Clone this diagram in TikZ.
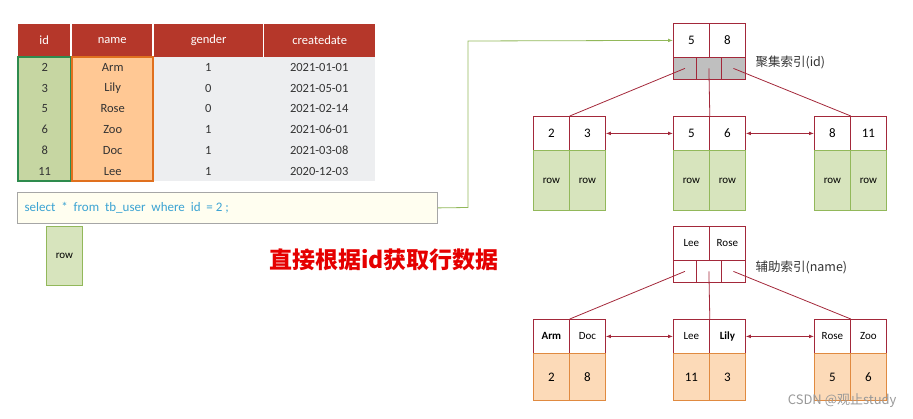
\documentclass[tikz,border=0pt]{standalone}
\usepackage{fontspec}
\setmainfont{Carlito}
\newfontfamily\cjk{Noto Sans CJK SC}
\usetikzlibrary{arrows.meta}
\definecolor{hdr}{HTML}{B5372A}
\definecolor{rowbg}{HTML}{EDEEF0}
\definecolor{gfill}{HTML}{C6D6A2}
\definecolor{gbord}{HTML}{2E8B4E}
\definecolor{ofill}{HTML}{FFC894}
\definecolor{obord}{HTML}{E0701E}
\definecolor{tred}{HTML}{A3283A}
\definecolor{lg}{HTML}{D7E4BD}
\definecolor{lgb}{HTML}{92B85A}
\definecolor{lo}{HTML}{FCDAB8}
\definecolor{lob}{HTML}{E08A40}
\definecolor{sqlc}{HTML}{3BA3D3}
\tikzset{
 cell/.style={draw=tred,line width=0.8pt,minimum width=36pt,minimum height=34pt,inner sep=0pt,anchor=north west,font=\fontsize{13}{13}\selectfont},
 pcell/.style={draw=tred,line width=0.8pt,minimum width=24pt,minimum height=22pt,inner sep=0pt,anchor=north west},
 greenrow/.style={draw=lgb,fill=lg,line width=0.8pt,minimum width=36pt,minimum height=60pt,inner sep=0pt,anchor=north west,font=\fontsize{11}{11}\selectfont},
 orow/.style={draw=lob,fill=lo,line width=0.8pt,minimum width=36pt,minimum height=47pt,inner sep=0pt,anchor=north west,font=\fontsize{13}{13}\selectfont},
 tlink/.style={draw=tred,line width=0.8pt},
 dbl/.style={draw=tred,line width=0.8pt,{Latex[length=5pt]}-{Latex[length=5pt]}},
 hcell/.style={fill=hdr,text=white,minimum height=33pt,inner sep=0pt,anchor=north west,font=\fontsize{12.5}{12.5}\selectfont},
 tcell/.style={minimum height=20.7pt,inner sep=0pt,anchor=north west,font=\fontsize{12.5}{12.5}\selectfont,text=black!80},
}
\begin{document}
\begin{tikzpicture}[x=1pt,y=-1pt]
\useasboundingbox (0,0) rectangle (913,419);
% table
\fill[rowbg] (153,57) rectangle (375,181);
\fill[gfill] (18,57) rectangle (71,181);
\fill[ofill] (72,57) rectangle (153,181);
\node[hcell,minimum width=52pt] (h1) at (18,24) {id};
\node[hcell,minimum width=80pt] (h2) at (72,24) {name};
\node[hcell,minimum width=109pt] (h3) at (154,24) {gender};
\node[hcell,minimum width=111pt] (h4) at (264,24) {createdate};
\foreach \i/\a/\b/\c/\d in {0/2/Arm/1/2021-01-01,1/3/Lily/0/2021-05-01,2/5/Rose/0/2021-02-14,3/6/Zoo/1/2021-06-01,4/8/Doc/1/2021-03-08,5/11/Lee/1/2020-12-03}{
 \node[tcell,minimum width=53pt] (ra\i) at (18,57+\i*20.7) {\a};
 \node[tcell,minimum width=81pt] (rb\i) at (72,57+\i*20.7) {\b};
 \node[tcell,minimum width=110pt] (rc\i) at (153,57+\i*20.7) {\c};
 \node[tcell,minimum width=112pt] (rd\i) at (263,57+\i*20.7) {\d};
}
\draw[gbord,line width=1.2pt] (18,57) rectangle (71,181);
\draw[obord,line width=1.2pt] (72,57) rectangle (153,181);
% sql
\node[draw=black!35,fill=yellow!6,line width=0.8pt,minimum width=420pt,minimum height=31pt,anchor=north west,inner sep=0pt] (sql) at (17,192) {};
\node[anchor=west,text=sqlc,font=\fontsize{13}{13}\selectfont] (sqlt) at (21,207.5) {select \ * \ from \ tb\_user \ where \ id \ = 2 ;};
\node[draw=lgb,fill=lg,line width=0.8pt,minimum width=36pt,minimum height=59pt,anchor=north west,inner sep=0pt,font=\fontsize{11}{11}\selectfont] (qrow) at (46,226) {row};
\node[text=red!90!black,font=\cjk\bfseries\fontsize{23}{23}\selectfont] (title) at (384,260) {直接根据id获取行数据};
% top tree
\node[cell] (r1a) at (673,23) {5};
\node[cell] (r1b) at (709,23) {8};
\node[pcell,fill=black!25,minimum width=23pt] (p1a) at (673,57) {};
\node[pcell,fill=black!25,minimum width=25pt] (p1b) at (696,57) {};
\node[pcell,fill=black!25,minimum width=24pt] (p1c) at (721,57) {};
\node[anchor=west,font=\cjk\fontsize{12.5}{12.5}\selectfont,text=black!80] (lab1) at (752,62) {聚集索引(id)};
\foreach \n/\x/\k/\l in {L/533/2/3,M/673/5/6,R/814/8/11}{
 \node[cell] (t\n a) at (\x,116) {\k};
 \node[cell] (t\n b) at (\x+36,116) {\l};
 \node[greenrow] (g\n a) at (\x,150) {row};
 \node[greenrow] (g\n b) at (\x+36,150) {row};
}
\draw[tlink] (p1a.center) -- (tLa.north east);
\draw[tlink] (p1b.center) -- (tMa.north east);
\draw[tlink] (p1c.center) -- (tRa.north east);
\draw[dbl] (tLb.east) -- (tMa.west);
\draw[dbl] (tMb.east) -- (tRa.west);
% bottom tree
\node[cell,font=\fontsize{11}{11}\selectfont] (r2a) at (673,226) {Lee};
\node[cell,font=\fontsize{11}{11}\selectfont] (r2b) at (709,226) {Rose};
\node[pcell,minimum width=23pt] (p2a) at (673,260) {};
\node[pcell,minimum width=25pt] (p2b) at (696,260) {};
\node[pcell,minimum width=24pt] (p2c) at (721,260) {};
\node[anchor=west,font=\cjk\fontsize{12.5}{12.5}\selectfont,text=black!80] (lab2) at (752,267) {辅助索引(name)};
\foreach \n/\x/\k/\l/\u/\v in {L/533/\textbf{Arm}/Doc/2/8,M/673/Lee/\textbf{Lily}/11/3,R/814/Rose/Zoo/5/6}{
 \node[cell,font=\fontsize{11}{11}\selectfont] (s\n a) at (\x,319) {\k};
 \node[cell,font=\fontsize{11}{11}\selectfont] (s\n b) at (\x+36,319) {\l};
 \node[orow] (o\n a) at (\x,353) {\u};
 \node[orow] (o\n b) at (\x+36,353) {\v};
}
\draw[tlink] (p2a.center) -- (sLa.north east);
\draw[tlink] (p2b.center) -- (sMa.north east);
\draw[tlink] (p2c.center) -- (sRa.north east);
\draw[dbl] (sLb.east) -- (sMa.west);
\draw[dbl] (sMb.east) -- (sRa.west);
% query link
\draw[lgb,line width=0.8pt,-{Latex[length=5pt]}] (sql.east) -- (468,207.5) -- (468,41) -- (r1a.west);
\node[anchor=east,text=black!40,font=\cjk\fontsize{13}{13}\selectfont] (wm) at (900,401) {CSDN @观止study};
\end{tikzpicture}
\end{document}
